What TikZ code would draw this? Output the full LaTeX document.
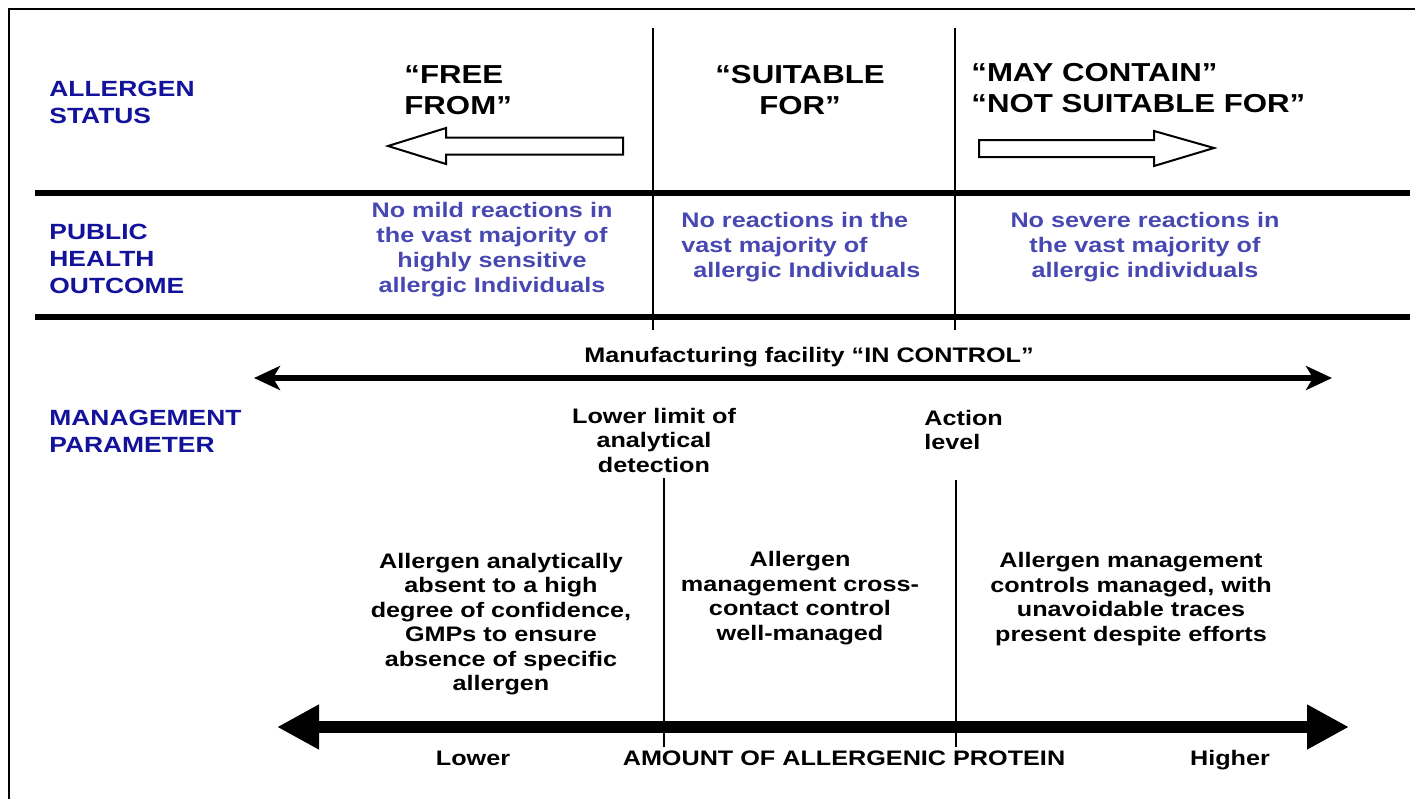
\documentclass[tikz,border=0pt]{standalone}
\usepackage{fontspec}
\setmainfont{Liberation Sans}[FakeStretch=1.2]
\usetikzlibrary{arrows.meta}

\definecolor{labblue}{RGB}{18,18,155}
\definecolor{outblue}{RGB}{72,72,178}

\begin{document}
\begin{tikzpicture}[x=0.5pt, y=-0.5pt,
  rowlbl/.style={font=\bfseries\fontsize{11}{13.5}\selectfont, text=labblue, align=left, anchor=west, inner sep=0pt},
  status/.style={font=\bfseries\fontsize{13}{15.5}\selectfont, inner sep=0pt},
  outcome/.style={font=\bfseries\fontsize{10.5}{12.5}\selectfont, text=outblue, align=center, inner sep=0pt},
  note/.style={font=\bfseries\fontsize{10.5}{12.25}\selectfont, align=center, inner sep=0pt},
  rule/.style={line width=3pt},
  divider/.style={line width=1pt},
  hollow/.style={draw, line width=1pt, fill=white, line join=miter},
  ctrlar/.style={{Stealth[length=13pt,width=12pt,inset=3.5pt]}-{Stealth[length=13pt,width=12pt,inset=3.5pt]}, line width=2.6pt},
  amountar/.style={{Triangle[length=21pt,width=21pt]}-{Triangle[length=21pt,width=21pt]}, line width=6pt}
]
\useasboundingbox (0,0) rectangle (1415,799);
% frame
\draw[line width=1.2pt] (9,799) -- (9,9) -- (1415,9);

% row rules and column dividers
\draw[rule] (35,193) -- (1410,193);
\draw[rule] (35,317) -- (1410,317);
\draw[divider] (653,28) -- (653,330);
\draw[divider] (955,28) -- (955,330);

% row labels
\node[rowlbl] (stat) at (49,102) {ALLERGEN\\STATUS};
\node[rowlbl] (pho) at (49,259) {PUBLIC\\HEALTH\\OUTCOME};
\node[rowlbl] (mgmt) at (49,431) {MANAGEMENT\\PARAMETER};

% allergen status
\node[status, align=left, anchor=west] (free) at (404,90) {“FREE\\FROM”};
\node[status, align=center] (suit) at (800,90) {“SUITABLE\\FOR”};
\node[status, align=left, anchor=west] (may) at (971,88) {“MAY CONTAIN”\\“NOT SUITABLE FOR”};
\draw[hollow] (388,146) -- (446,128) -- (446,137.5) -- (623,137.5) -- (623,154.5) -- (446,154.5) -- (446,164) -- cycle;
\draw[hollow] (1214,148) -- (1154,131) -- (1154,140) -- (979,140) -- (979,157) -- (1154,157) -- (1154,166) -- cycle;

% public health outcome
\node[outcome] (out1) at (492,250) {No mild reactions in\\the vast majority of\\highly sensitive\\allergic Individuals};
\node[outcome, align=left, anchor=west] (out2) at (681,247) {No reactions in the\\vast majority of\\\hspace*{6pt}allergic Individuals};
\node[outcome] (out3) at (1145,247) {No severe reactions in\\the vast majority of\\allergic individuals};

% management parameter
\node[note] (ctrl) at (809,357) {Manufacturing facility “IN CONTROL”};
\coordinate (ctrlL) at (254,378);
\coordinate (ctrlR) at (1332,378);
\draw[ctrlar] (ctrlL) -- (ctrlR);

\node[note] (lod) at (654,440) {Lower limit of\\analytical\\detection};
\node[note, align=left, anchor=west] (act) at (924,430) {Action\\level};
\draw[divider] (664,478) -- (664,747);
\draw[divider] (956,480) -- (956,747);

\node[note] (blk1) at (501,624) {Allergen analytically\\absent to a high\\degree of confidence,\\GMPs to ensure\\absence of specific\\allergen};
\node[note] (blk2) at (800,598) {Allergen\\management cross-\\contact control\\well-managed};
\node[note] (blk3) at (1131,599) {Allergen management\\controls managed, with\\unavoidable traces\\present despite efforts};

% amount axis
\coordinate (amtL) at (277,727);
\coordinate (amtR) at (1349,727);
\draw[amountar] (amtL) -- (amtR);
\node[note] (lower) at (473,758) {Lower};
\node[note] (amount) at (844,758) {AMOUNT OF ALLERGENIC PROTEIN};
\node[note] (higher) at (1230,760) {Higher};
\end{tikzpicture}
\end{document}
